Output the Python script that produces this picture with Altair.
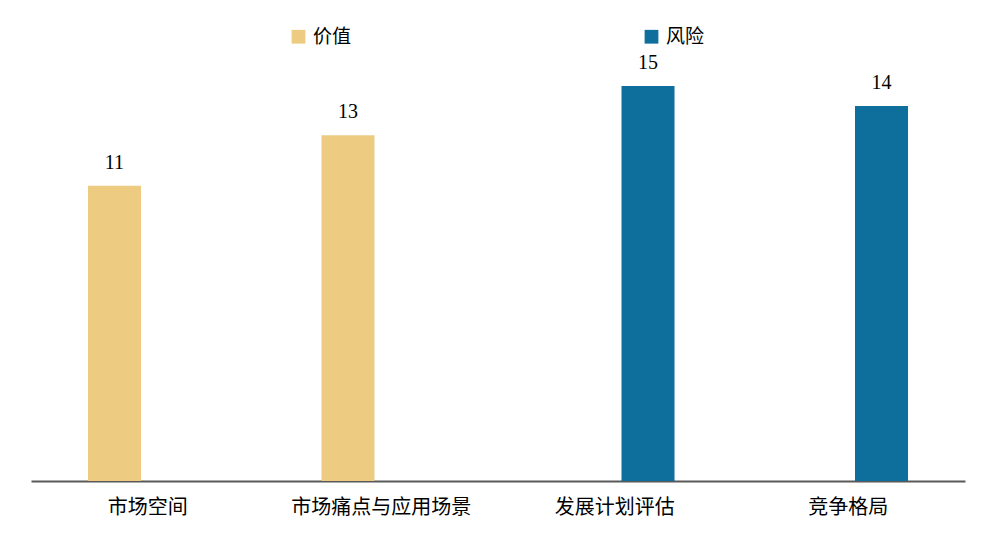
import altair as alt
import pandas as pd

categories = ["市场空间", "市场痛点与应用场景", "发展计划评估", "竞争格局"]
series = ["价值", "价值", "风险", "风险"]
values = [11.1, 13.0, 14.85, 14.1]
series_order = ["价值", "风险"]
colors = ["#EDCC82", "#0E6F9C"]

df = pd.DataFrame({"cat": categories, "series": series, "value": values})

x = alt.X("cat:N", sort=categories, title=None,
          scale=alt.Scale(paddingInner=0.488, paddingOuter=0.244),
          axis=alt.Axis(labelAngle=0, ticks=False, domainColor="#595959", domainWidth=2,
                        labelFont="Noto Sans CJK SC", labelFontSize=20, labelColor="#000000",
                        labelPadding=16, grid=False))
xo = alt.XOffset("series:N", scale=alt.Scale(domain=series_order, paddingInner=0.203, paddingOuter=0))
y = alt.Y("value:Q", scale=alt.Scale(domain=[0, 15]), axis=None)

bars = alt.Chart(df).mark_bar().encode(
    x=x, xOffset=xo, y=y,
    color=alt.Color("series:N", scale=alt.Scale(domain=series_order, range=colors), title=None,
                    legend=alt.Legend(orient="none", legendX=258, legendY=-55, direction="horizontal",
                                      symbolType="square", symbolSize=190, symbolStrokeWidth=0,
                                      labelFont="Noto Sans CJK SC", labelFontSize=19, labelColor="#000000",
                                      columnPadding=290, padding=0, labelOffset=5))
)

labels = alt.Chart(df).mark_text(font="Liberation Serif", fontSize=20, color="#000000",
                                  baseline="bottom", dy=-13).encode(
    x=x, xOffset=xo, y=y, text=alt.Text("value:Q", format=".0f")
)

chart = alt.layer(bars, labels).properties(
    width=934, height=399,
    autosize=alt.AutoSizeParams(type="none"),
    padding={"left": 23, "top": 74, "right": 20, "bottom": 40},
).configure_view(stroke=None)

chart.save("out.html", embed_options={"renderer": "svg", "actions": False})
